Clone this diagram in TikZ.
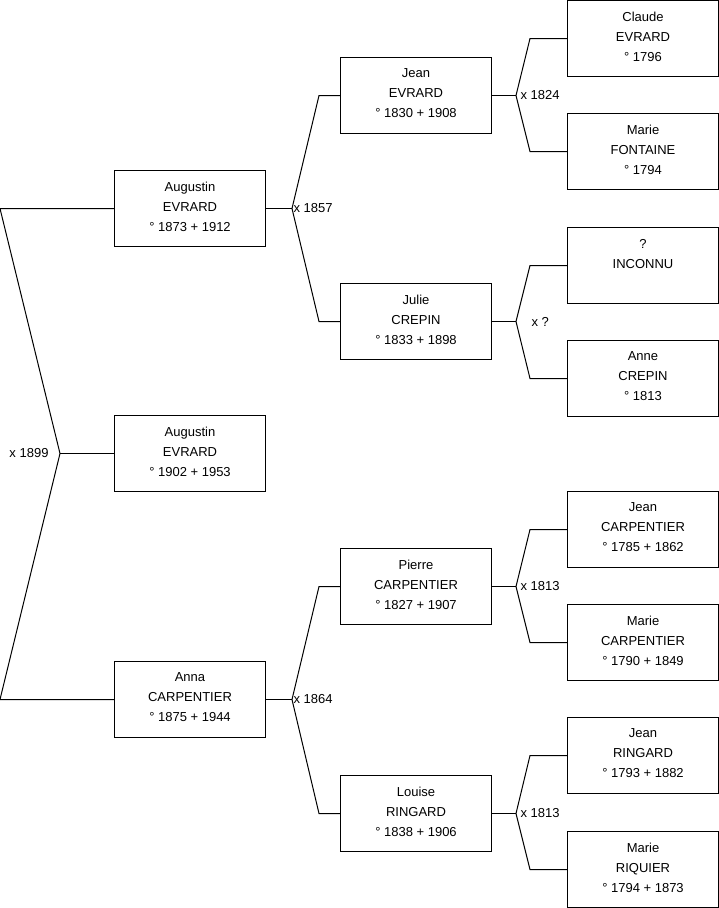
\documentclass[tikz,border=0pt]{standalone}
\usepackage{fontspec}
\setmainfont{Liberation Sans}
\usetikzlibrary{positioning, calc}

\begin{document}
\begin{tikzpicture}[x=1pt, y=-1pt, line width=1pt,
  person/.style={draw, anchor=north west, minimum width=151pt, minimum height=76pt,
    inner sep=0pt, align=center, text depth=4pt, font=\fontsize{13}{20}\selectfont},
  wed/.style={font=\fontsize{13}{15}\selectfont, inner sep=1pt}]
  \useasboundingbox (0,0) rectangle (719,908);
  % generation 1: the child and his parents
  \node[person] (a1) at (114,170) {Augustin\\EVRARD\\° 1873 + 1912};
  \node[person] (a0) at (114,415) {Augustin\\EVRARD\\° 1902 + 1953};
  \node[person] (an) at (114,661) {Anna\\CARPENTIER\\° 1875 + 1944};
  % generation 2
  \node[person] (je) at (340,57)  {Jean\\EVRARD\\° 1830 + 1908};
  \node[person] (jc) at (340,283) {Julie\\CREPIN\\° 1833 + 1898};
  \node[person] (pc) at (340,548) {Pierre\\CARPENTIER\\° 1827 + 1907};
  \node[person] (lr) at (340,775) {Louise\\RINGARD\\° 1838 + 1906};
  % generation 3
  \node[person] (ce) at (567,0)   {Claude\\EVRARD\\° 1796};
  \node[person] (mf) at (567,113) {Marie\\FONTAINE\\° 1794};
  \node[person] (ui) at (567,227) {?\\INCONNU\\\mbox{}};
  \node[person] (ac) at (567,340) {Anne\\CREPIN\\° 1813};
  \node[person] (jp) at (567,491) {Jean\\CARPENTIER\\° 1785 + 1862};
  \node[person] (mc) at (567,604) {Marie\\CARPENTIER\\° 1790 + 1849};
  \node[person] (jr) at (567,717) {Jean\\RINGARD\\° 1793 + 1882};
  \node[person] (mr) at (567,831) {Marie\\RIQUIER\\° 1794 + 1873};

  % first marriage, fork on the left
  \draw (a0.west) -- ++(-54,0) coordinate (k0);
  \draw (a1.west) -- ++(-114,0) -- (k0) -- ($(an.west)+(-114,0)$) -- (an.west);
  \node[wed, left=10pt of k0] (w0) {x 1899};

  % couples of generation 2 and 3
  \foreach \c/\f/\m/\go/\gi/\lab/\dx in {a1/je/jc/26/21/x 1857/0, an/pc/lr/26/21/x 1864/0,
      je/ce/mf/24/37/x 1824/3, jc/ui/ac/24/37/x ?/14, pc/jp/mc/24/37/x 1813/3, lr/jr/mr/24/37/x 1813/3}{
    \draw (\c.east) -- ++(\go,0) coordinate (k\c);
    \draw (\f.west) -- ++(-\gi,0) -- (k\c) -- ($(\m.west)+(-\gi,0)$) -- (\m.west);
    \node[wed, anchor=west, xshift=\dx pt] (w\c) at (k\c) {\lab};
  }
\end{tikzpicture}
\end{document}
